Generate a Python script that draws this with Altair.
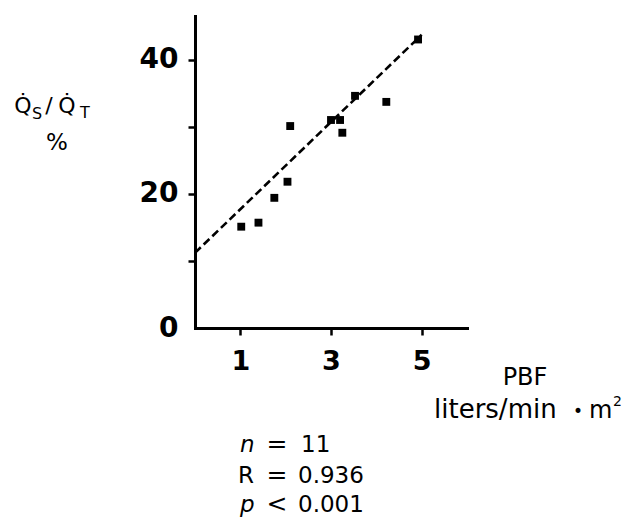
import altair as alt
import pandas as pd

# ---- data ----
pbf = [1.02, 1.40, 1.75, 2.04, 2.10, 3.00, 3.20, 3.25, 3.53, 4.22, 4.92]
qs_qt = [15.1, 15.7, 19.4, 21.8, 30.1, 31.0, 31.0, 29.1, 34.6, 33.7, 43.0]
fit_x = [0.0, 5.0]
fit_y = [11.2, 43.7]
x_ticks = [1, 3, 5]
y_ticks = [0, 10, 20, 30, 40]

pts = pd.DataFrame({"PBF": pbf, "QS": qs_qt})
fit = pd.DataFrame({"PBF": fit_x, "QS": fit_y})

W, H = 272, 312
FONT = "DejaVu Sans"

xscale = alt.Scale(domain=[0, 6], nice=False, zero=False)
yscale = alt.Scale(domain=[0, 46.5], nice=False)

xaxis = alt.Axis(values=x_ticks, title=None, grid=False,
                 domainWidth=3, domainColor="black", domainCap="square",
                 tickColor="black", tickWidth=2.5, tickSize=7,
                 labelFont=FONT, labelFontSize=27, labelFontWeight="bold",
                 labelColor="black", labelPadding=13, labelFlush=False)
yaxis = alt.Axis(values=y_ticks, title=None, grid=False,
                 domainWidth=3, domainColor="black", domainCap="square",
                 tickColor={"condition": {"test": "datum.value === 0", "value": "transparent"},
                            "value": "black"},
                 tickWidth=2.5, tickSize=7,
                 labelExpr="datum.value % 20 === 0 ? datum.label : ''",
                 labelFont=FONT, labelFontSize=28, labelFontWeight="bold",
                 labelColor="black", labelPadding=10, labelFlush=False)

points = alt.Chart(pts).mark_square(size=62, color="black", opacity=1).encode(
    x=alt.X("PBF:Q", scale=xscale, axis=xaxis),
    y=alt.Y("QS:Q", scale=yscale, axis=yaxis),
)

line = alt.Chart(fit).mark_line(color="black", strokeWidth=2.6, strokeDash=[8, 4]).encode(
    x=alt.X("PBF:Q", scale=xscale),
    y=alt.Y("QS:Q", scale=yscale),
)


def txt(s, x, y, size=23, weight="normal", style="normal", align="left"):
    return alt.Chart(pd.DataFrame({"t": [s]})).mark_text(
        font=FONT, fontSize=size, fontWeight=weight, fontStyle=style,
        align=align, baseline="alphabetic", color="black"
    ).encode(text="t:N", x=alt.value(x), y=alt.value(y))


# offsets: plot origin in page coords is (195, 16)
ox, oy = 195, 16
texts = [
    # y title  Q̇S/Q̇T  and %
    txt("Q\u0307", 23 - ox, 113 - oy, size=22, align="center"),
    txt("S", 37 - ox, 119 - oy, size=16, align="center"),
    txt("/", 49 - ox, 113 - oy, size=22, align="center"),
    txt("Q\u0307", 67 - ox, 113 - oy, size=22, align="center"),
    txt("T", 85 - ox, 118 - oy, size=16, align="center"),
    txt("%", 57 - ox, 150 - oy, size=23, align="center"),
    # x title
    txt("PBF", 525 - ox, 385 - oy, size=24, align="center"),
    txt("liters/min", 434 - ox, 418 - oy, size=26),
    txt("\u2022", 578 - ox, 417 - oy, size=17, align="center"),
    txt("m", 589 - ox, 418 - oy, size=24),
    txt("2", 613 - ox, 406 - oy, size=14),
    # statistics
    txt("n", 240 - ox, 452 - oy, style="italic"),
    txt("=", 277 - ox, 452 - oy, size=25, align="center"),
    txt("11", 301 - ox, 452 - oy),
    txt("R", 238 - ox, 483 - oy),
    txt("=", 277 - ox, 483 - oy, size=25, align="center"),
    txt("0.936", 298 - ox, 483 - oy),
    txt("p", 240 - ox, 512 - oy, style="italic"),
    txt("<", 277 - ox, 512 - oy, size=25, align="center"),
    txt("0.001", 298 - ox, 512 - oy),
]

chart = alt.layer(line, points, *texts).properties(
    width=W, height=H,
    autosize=alt.AutoSizeParams(type="none"),
    padding={"left": 187, "top": 8, "right": 158, "bottom": 192},
    background="white",
).configure_view(stroke=None)

chart.save("out.html", embed_options={"renderer": "svg", "actions": False})
